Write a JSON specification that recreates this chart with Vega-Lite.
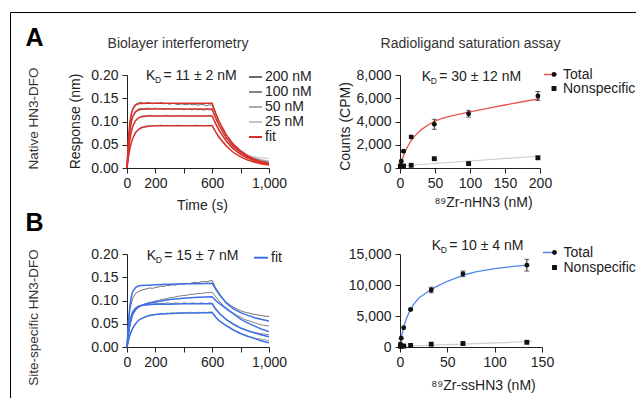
{
  "$schema": "https://vega.github.io/schema/vega-lite/v6.json",
  "background": "white",
  "padding": {"left": 9, "top": 11, "right": 0, "bottom": 0},
  "columns": 2,
  "spacing": {"row": 86, "column": 131},
  "bounds": "flush",
  "resolve": {"scale": {"color": "independent", "stroke": "independent", "shape": "independent", "opacity": "independent"}, "legend": {"color": "independent", "stroke": "independent", "shape": "independent", "opacity": "independent"}},
  "config": {
    "font": "Liberation Sans",
    "view": {"stroke": null},
    "axis": {"grid": false, "labelFont": "Liberation Sans", "labelFontSize": 14, "labelColor": "#222", "titleFont": "Liberation Sans", "titleFontSize": 14, "titleFontWeight": "normal", "titleColor": "#222", "domainColor": "#222", "tickColor": "#222", "tickSize": 5, "labelPadding": 3},
    "legend": {"labelFont": "Liberation Sans", "labelFontSize": 14, "labelColor": "#222"},
    "text": {"font": "Liberation Sans"}
  },
  "datasets": {
    "bliA": [
      {"t":0,"200 nM":0,"100 nM":0,"50 nM":0,"25 nM":0},
      {"t":20,"200 nM":0.099,"100 nM":0.082,"50 nM":0.063,"25 nM":0.042},
      {"t":40,"200 nM":0.128,"100 nM":0.111,"50 nM":0.090,"25 nM":0.065},
      {"t":60,"200 nM":0.137,"100 nM":0.122,"50 nM":0.103,"25 nM":0.077},
      {"t":80,"200 nM":0.140,"100 nM":0.127,"50 nM":0.108,"25 nM":0.084},
      {"t":100,"200 nM":0.141,"100 nM":0.128,"50 nM":0.111,"25 nM":0.088},
      {"t":120,"200 nM":0.139,"100 nM":0.127,"50 nM":0.113,"25 nM":0.090},
      {"t":140,"200 nM":0.141,"100 nM":0.129,"50 nM":0.112,"25 nM":0.091},
      {"t":160,"200 nM":0.140,"100 nM":0.128,"50 nM":0.114,"25 nM":0.092},
      {"t":180,"200 nM":0.138,"100 nM":0.127,"50 nM":0.112,"25 nM":0.090},
      {"t":200,"200 nM":0.140,"100 nM":0.129,"50 nM":0.113,"25 nM":0.092},
      {"t":220,"200 nM":0.139,"100 nM":0.127,"50 nM":0.111,"25 nM":0.091},
      {"t":240,"200 nM":0.141,"100 nM":0.128,"50 nM":0.113,"25 nM":0.093},
      {"t":260,"200 nM":0.138,"100 nM":0.126,"50 nM":0.112,"25 nM":0.091},
      {"t":280,"200 nM":0.139,"100 nM":0.128,"50 nM":0.114,"25 nM":0.092},
      {"t":300,"200 nM":0.137,"100 nM":0.127,"50 nM":0.112,"25 nM":0.090},
      {"t":320,"200 nM":0.139,"100 nM":0.126,"50 nM":0.113,"25 nM":0.092},
      {"t":340,"200 nM":0.138,"100 nM":0.128,"50 nM":0.111,"25 nM":0.091},
      {"t":360,"200 nM":0.136,"100 nM":0.126,"50 nM":0.113,"25 nM":0.093},
      {"t":380,"200 nM":0.138,"100 nM":0.127,"50 nM":0.112,"25 nM":0.091},
      {"t":400,"200 nM":0.137,"100 nM":0.125,"50 nM":0.113,"25 nM":0.092},
      {"t":420,"200 nM":0.136,"100 nM":0.127,"50 nM":0.111,"25 nM":0.090},
      {"t":440,"200 nM":0.138,"100 nM":0.126,"50 nM":0.112,"25 nM":0.092},
      {"t":460,"200 nM":0.136,"100 nM":0.125,"50 nM":0.113,"25 nM":0.091},
      {"t":480,"200 nM":0.137,"100 nM":0.127,"50 nM":0.111,"25 nM":0.093},
      {"t":500,"200 nM":0.135,"100 nM":0.125,"50 nM":0.112,"25 nM":0.091},
      {"t":520,"200 nM":0.137,"100 nM":0.126,"50 nM":0.113,"25 nM":0.092},
      {"t":540,"200 nM":0.136,"100 nM":0.124,"50 nM":0.111,"25 nM":0.090},
      {"t":560,"200 nM":0.134,"100 nM":0.126,"50 nM":0.112,"25 nM":0.092},
      {"t":580,"200 nM":0.136,"100 nM":0.125,"50 nM":0.113,"25 nM":0.091},
      {"t":600,"200 nM":0.135,"100 nM":0.125,"50 nM":0.112,"25 nM":0.092},
      {"t":620,"200 nM":0.120,"100 nM":0.110,"50 nM":0.099,"25 nM":0.081},
      {"t":640,"200 nM":0.104,"100 nM":0.096,"50 nM":0.087,"25 nM":0.072},
      {"t":660,"200 nM":0.092,"100 nM":0.085,"50 nM":0.077,"25 nM":0.064},
      {"t":680,"200 nM":0.080,"100 nM":0.074,"50 nM":0.068,"25 nM":0.057},
      {"t":700,"200 nM":0.071,"100 nM":0.065,"50 nM":0.060,"25 nM":0.051},
      {"t":720,"200 nM":0.062,"100 nM":0.058,"50 nM":0.053,"25 nM":0.046},
      {"t":740,"200 nM":0.055,"100 nM":0.050,"50 nM":0.047,"25 nM":0.042},
      {"t":760,"200 nM":0.048,"100 nM":0.045,"50 nM":0.042,"25 nM":0.038},
      {"t":780,"200 nM":0.043,"100 nM":0.039,"50 nM":0.038,"25 nM":0.035},
      {"t":800,"200 nM":0.038,"100 nM":0.035,"50 nM":0.034,"25 nM":0.032},
      {"t":820,"200 nM":0.034,"100 nM":0.031,"50 nM":0.031,"25 nM":0.030},
      {"t":840,"200 nM":0.029,"100 nM":0.027,"50 nM":0.028,"25 nM":0.028},
      {"t":860,"200 nM":0.027,"100 nM":0.025,"50 nM":0.025,"25 nM":0.027},
      {"t":880,"200 nM":0.024,"100 nM":0.022,"50 nM":0.023,"25 nM":0.025},
      {"t":900,"200 nM":0.021,"100 nM":0.020,"50 nM":0.022,"25 nM":0.024},
      {"t":920,"200 nM":0.019,"100 nM":0.018,"50 nM":0.020,"25 nM":0.023},
      {"t":940,"200 nM":0.018,"100 nM":0.016,"50 nM":0.018,"25 nM":0.022},
      {"t":960,"200 nM":0.015,"100 nM":0.015,"50 nM":0.017,"25 nM":0.022},
      {"t":980,"200 nM":0.014,"100 nM":0.013,"50 nM":0.016,"25 nM":0.021},
      {"t":1000,"200 nM":0.012,"100 nM":0.012,"50 nM":0.015,"25 nM":0.021}
    ],
    "fitA": [
      {"t":0,"200 nM":0,"100 nM":0,"50 nM":0,"25 nM":0},
      {"t":10,"200 nM":0.0627,"100 nM":0.0499,"50 nM":0.0370,"25 nM":0.0236},
      {"t":20,"200 nM":0.0972,"100 nM":0.0803,"50 nM":0.0617,"25 nM":0.0410},
      {"t":30,"200 nM":0.1161,"100 nM":0.0987,"50 nM":0.0783,"25 nM":0.0540},
      {"t":40,"200 nM":0.1264,"100 nM":0.1099,"50 nM":0.0894,"25 nM":0.0636},
      {"t":60,"200 nM":0.1352,"100 nM":0.1207,"50 nM":0.1018,"25 nM":0.0760},
      {"t":80,"200 nM":0.1379,"100 nM":0.1247,"50 nM":0.1074,"25 nM":0.0827},
      {"t":100,"200 nM":0.1387,"100 nM":0.1261,"50 nM":0.1100,"25 nM":0.0865},
      {"t":150,"200 nM":0.1390,"100 nM":0.1269,"50 nM":0.1117,"25 nM":0.0900},
      {"t":200,"200 nM":0.139,"100 nM":0.127,"50 nM":0.112,"25 nM":0.0908},
      {"t":300,"200 nM":0.139,"100 nM":0.127,"50 nM":0.112,"25 nM":0.091},
      {"t":600,"200 nM":0.139,"100 nM":0.127,"50 nM":0.112,"25 nM":0.091},
      {"t":610,"200 nM":0.1300,"100 nM":0.1187,"50 nM":0.1047,"25 nM":0.0851},
      {"t":625,"200 nM":0.1176,"100 nM":0.1074,"50 nM":0.0948,"25 nM":0.0770},
      {"t":650,"200 nM":0.0994,"100 nM":0.0908,"50 nM":0.0801,"25 nM":0.0651},
      {"t":700,"200 nM":0.0712,"100 nM":0.0650,"50 nM":0.0573,"25 nM":0.0466},
      {"t":750,"200 nM":0.0509,"100 nM":0.0465,"50 nM":0.0410,"25 nM":0.0333},
      {"t":800,"200 nM":0.0364,"100 nM":0.0333,"50 nM":0.0293,"25 nM":0.0238},
      {"t":850,"200 nM":0.0260,"100 nM":0.0237,"50 nM":0.0209,"25 nM":0.0170},
      {"t":900,"200 nM":0.0186,"100 nM":0.0170,"50 nM":0.0150,"25 nM":0.0122},
      {"t":950,"200 nM":0.0133,"100 nM":0.0122,"50 nM":0.0108,"25 nM":0.0087},
      {"t":1000,"200 nM":0.0095,"100 nM":0.0087,"50 nM":0.0077,"25 nM":0.0062}
    ],
    "bliB": [
      {"t":0,"g1":0,"g2":0,"g3":0,"g4":0},
      {"t":20,"g1":0.080,"g2":0.045,"g3":0.055,"g4":0.027},
      {"t":40,"g1":0.105,"g2":0.068,"g3":0.076,"g4":0.040},
      {"t":60,"g1":0.115,"g2":0.079,"g3":0.084,"g4":0.050},
      {"t":80,"g1":0.119,"g2":0.085,"g3":0.088,"g4":0.057},
      {"t":100,"g1":0.122,"g2":0.089,"g3":0.090,"g4":0.061},
      {"t":120,"g1":0.124,"g2":0.092,"g3":0.091,"g4":0.064},
      {"t":140,"g1":0.125,"g2":0.094,"g3":0.092,"g4":0.066},
      {"t":160,"g1":0.127,"g2":0.096,"g3":0.093,"g4":0.068},
      {"t":180,"g1":0.126,"g2":0.097,"g3":0.092,"g4":0.069},
      {"t":200,"g1":0.128,"g2":0.099,"g3":0.094,"g4":0.070},
      {"t":220,"g1":0.129,"g2":0.100,"g3":0.093,"g4":0.071},
      {"t":240,"g1":0.131,"g2":0.102,"g3":0.094,"g4":0.072},
      {"t":260,"g1":0.130,"g2":0.103,"g3":0.093,"g4":0.071},
      {"t":280,"g1":0.133,"g2":0.104,"g3":0.095,"g4":0.073},
      {"t":300,"g1":0.132,"g2":0.106,"g3":0.094,"g4":0.072},
      {"t":320,"g1":0.134,"g2":0.106,"g3":0.093,"g4":0.073},
      {"t":340,"g1":0.133,"g2":0.108,"g3":0.095,"g4":0.072},
      {"t":360,"g1":0.135,"g2":0.109,"g3":0.094,"g4":0.074},
      {"t":380,"g1":0.136,"g2":0.110,"g3":0.093,"g4":0.073},
      {"t":400,"g1":0.135,"g2":0.111,"g3":0.095,"g4":0.074},
      {"t":420,"g1":0.137,"g2":0.111,"g3":0.094,"g4":0.073},
      {"t":440,"g1":0.136,"g2":0.113,"g3":0.093,"g4":0.075},
      {"t":460,"g1":0.138,"g2":0.113,"g3":0.095,"g4":0.074},
      {"t":480,"g1":0.139,"g2":0.114,"g3":0.094,"g4":0.073},
      {"t":500,"g1":0.138,"g2":0.115,"g3":0.093,"g4":0.075},
      {"t":520,"g1":0.140,"g2":0.115,"g3":0.095,"g4":0.074},
      {"t":540,"g1":0.141,"g2":0.116,"g3":0.094,"g4":0.075},
      {"t":560,"g1":0.140,"g2":0.117,"g3":0.093,"g4":0.074},
      {"t":580,"g1":0.142,"g2":0.117,"g3":0.095,"g4":0.075},
      {"t":600,"g1":0.143,"g2":0.118,"g3":0.094,"g4":0.075},
      {"t":620,"g1":0.130,"g2":0.110,"g3":0.085,"g4":0.067},
      {"t":640,"g1":0.120,"g2":0.102,"g3":0.077,"g4":0.060},
      {"t":660,"g1":0.111,"g2":0.095,"g3":0.070,"g4":0.054},
      {"t":680,"g1":0.103,"g2":0.089,"g3":0.064,"g4":0.049},
      {"t":700,"g1":0.096,"g2":0.084,"g3":0.058,"g4":0.045},
      {"t":720,"g1":0.092,"g2":0.079,"g3":0.054,"g4":0.041},
      {"t":740,"g1":0.087,"g2":0.075,"g3":0.050,"g4":0.037},
      {"t":760,"g1":0.084,"g2":0.071,"g3":0.046,"g4":0.034},
      {"t":780,"g1":0.081,"g2":0.067,"g3":0.043,"g4":0.031},
      {"t":800,"g1":0.078,"g2":0.064,"g3":0.040,"g4":0.029},
      {"t":820,"g1":0.076,"g2":0.061,"g3":0.038,"g4":0.026},
      {"t":840,"g1":0.074,"g2":0.058,"g3":0.036,"g4":0.024},
      {"t":860,"g1":0.073,"g2":0.056,"g3":0.034,"g4":0.022},
      {"t":880,"g1":0.071,"g2":0.054,"g3":0.032,"g4":0.021},
      {"t":900,"g1":0.070,"g2":0.052,"g3":0.031,"g4":0.019},
      {"t":920,"g1":0.069,"g2":0.050,"g3":0.030,"g4":0.018},
      {"t":940,"g1":0.068,"g2":0.048,"g3":0.029,"g4":0.017},
      {"t":960,"g1":0.067,"g2":0.047,"g3":0.028,"g4":0.016},
      {"t":980,"g1":0.066,"g2":0.046,"g3":0.027,"g4":0.015},
      {"t":1000,"g1":0.066,"g2":0.045,"g3":0.027,"g4":0.014}
    ],
    "fitB": [
      {"t":0,"k1":0,"k2":0,"k3":0,"k4":0},
      {"t":10,"k1":0.055,"k2":0.028,"k3":0.032,"k4":0.014},
      {"t":20,"k1":0.088,"k2":0.048,"k3":0.052,"k4":0.025},
      {"t":30,"k1":0.108,"k2":0.062,"k3":0.066,"k4":0.033},
      {"t":40,"k1":0.119,"k2":0.071,"k3":0.075,"k4":0.040},
      {"t":60,"k1":0.128,"k2":0.081,"k3":0.083,"k4":0.050},
      {"t":80,"k1":0.131,"k2":0.086,"k3":0.087,"k4":0.057},
      {"t":100,"k1":0.132,"k2":0.089,"k3":0.089,"k4":0.061},
      {"t":150,"k1":0.133,"k2":0.094,"k3":0.091,"k4":0.067},
      {"t":200,"k1":0.134,"k2":0.097,"k3":0.092,"k4":0.070},
      {"t":300,"k1":0.135,"k2":0.102,"k3":0.092,"k4":0.072},
      {"t":400,"k1":0.136,"k2":0.105,"k3":0.093,"k4":0.073},
      {"t":500,"k1":0.136,"k2":0.107,"k3":0.093,"k4":0.073},
      {"t":600,"k1":0.137,"k2":0.108,"k3":0.093,"k4":0.074},
      {"t":610,"k1":0.132,"k2":0.105,"k3":0.088,"k4":0.070},
      {"t":625,"k1":0.124,"k2":0.100,"k3":0.081,"k4":0.064},
      {"t":650,"k1":0.113,"k2":0.094,"k3":0.072,"k4":0.056},
      {"t":700,"k1":0.094,"k2":0.082,"k3":0.059,"k4":0.046},
      {"t":750,"k1":0.082,"k2":0.071,"k3":0.049,"k4":0.037},
      {"t":800,"k1":0.074,"k2":0.060,"k3":0.041,"k4":0.029},
      {"t":850,"k1":0.068,"k2":0.052,"k3":0.035,"k4":0.023},
      {"t":900,"k1":0.063,"k2":0.045,"k3":0.030,"k4":0.018},
      {"t":950,"k1":0.059,"k2":0.038,"k3":0.026,"k4":0.013},
      {"t":1000,"k1":0.056,"k2":0.033,"k3":0.022,"k4":0.009}
    ],
    "satA": [
      {"s":"Total","x":0.6,"y":230},
      {"s":"Total","x":1.8,"y":580},
      {"s":"Total","x":5,"y":1440,"lo":1360,"hi":1520},
      {"s":"Total","x":16,"y":2670,"lo":2550,"hi":2790},
      {"s":"Total","x":49,"y":3760,"lo":3330,"hi":4190},
      {"s":"Total","x":98,"y":4670,"lo":4380,"hi":4960},
      {"s":"Total","x":197,"y":6190,"lo":5800,"hi":6580},
      {"s":"Nonspecific","x":0.6,"y":120},
      {"s":"Nonspecific","x":1.8,"y":150},
      {"s":"Nonspecific","x":5,"y":170},
      {"s":"Nonspecific","x":16,"y":230},
      {"s":"Nonspecific","x":49,"y":800},
      {"s":"Nonspecific","x":98,"y":380},
      {"s":"Nonspecific","x":197,"y":880}
    ],
    "totA": [
      {"x":0,"y":0},{"x":1,"y":240},{"x":2,"y":455},{"x":3,"y":664},{"x":5,"y":1030},{"x":7.5,"y":1414},{"x":10,"y":1742},{"x":15,"y":2271},{"x":20,"y":2681},{"x":30,"y":3280},{"x":40,"y":3704},{"x":50,"y":4030},{"x":60,"y":4260},{"x":75,"y":4500},{"x":100,"y":4830},{"x":125,"y":5130},{"x":150,"y":5420},{"x":175,"y":5700},{"x":200,"y":5970}
    ],
    "nsA": [{"x":0,"y":170},{"x":200,"y":1030}],
    "satB": [
      {"s":"Total","x":0.4,"y":480},
      {"s":"Total","x":1.3,"y":1400},
      {"s":"Total","x":3.9,"y":3100},
      {"s":"Total","x":11.2,"y":6050,"lo":5900,"hi":6200},
      {"s":"Total","x":33,"y":9200,"lo":8750,"hi":9650},
      {"s":"Total","x":66.5,"y":11800,"lo":11350,"hi":12250},
      {"s":"Total","x":134,"y":13200,"lo":12250,"hi":14150},
      {"s":"Nonspecific","x":0.4,"y":120},
      {"s":"Nonspecific","x":1.3,"y":180},
      {"s":"Nonspecific","x":3.9,"y":150},
      {"s":"Nonspecific","x":11.2,"y":250},
      {"s":"Nonspecific","x":33,"y":450},
      {"s":"Nonspecific","x":66.5,"y":560},
      {"s":"Nonspecific","x":134,"y":760}
    ],
    "totB": [
      {"x":0,"y":0},{"x":1,"y":1000},{"x":2,"y":1900},{"x":4,"y":3300},{"x":7,"y":4700},{"x":11,"y":6000},{"x":15,"y":7000},{"x":20,"y":7900},{"x":30,"y":9000},{"x":40,"y":9850},{"x":50,"y":10600},{"x":67,"y":11600},{"x":80,"y":12100},{"x":100,"y":12650},{"x":120,"y":13000},{"x":134,"y":13200}
    ],
    "nsB": [{"x":0,"y":100},{"x":140,"y":890}],
    "one": [{"u": 0}]
  },
  "concat": [
    {
      "width": 142, "height": 93,
      "resolve": {"scale": {"x": "independent", "y": "independent"}},
      "layer": [
        {
          "resolve": {"axis": {"x": "independent", "y": "independent"}},
          "layer": [
            {
              "data": {"name": "bliA"},
              "transform": [{"fold": ["200 nM", "100 nM", "50 nM", "25 nM"], "as": ["c", "v"]}],
              "mark": {"type": "line", "strokeWidth": 1},
              "encoding": {
                "x": {"field": "t", "type": "quantitative", "scale": {"domain": [0, 1000], "nice": false}, "axis": {"orient": "bottom", "values": [0, 400, 600], "labelFlush": false, "labelExpr": "datum.value == 400 ? '' : format(datum.value, ',')", "title": "Time (s)", "titleX": 75, "titleY": 37, "titleAlign": "center", "titleBaseline": "middle"}},
                "y": {"field": "v", "type": "quantitative", "scale": {"domain": [0, 0.2], "nice": false}, "axis": {"orient": "left", "values": [0, 0.1], "labelFlush": false, "labelExpr": "format(datum.value, '.2f')", "title": "Response (nm)", "titleX": -52, "titleY": 46, "titleAlign": "center", "titleBaseline": "middle", "labelPadding": 4}},
                "color": {"field": "c", "type": "nominal", "scale": {"domain": ["200 nM", "100 nM", "50 nM", "25 nM", "fit"], "range": ["#6b6b6b", "#858585", "#a9a9a9", "#c4c4c4", "#d8302a"]}, "legend": {"orient": "none", "legendX": 121, "legendY": -4, "title": null, "padding": 0, "rowPadding": 0, "clipHeight": 11.75, "symbolType": "stroke", "symbolSize": 169, "symbolStrokeWidth": 2, "labelOffset": 2}}
              }
            },
            {
              "data": {"name": "fitA"},
              "transform": [{"fold": ["200 nM", "100 nM", "50 nM", "25 nM"], "as": ["c", "v"]}],
              "mark": {"type": "line", "strokeWidth": 1.5},
              "encoding": {
                "x": {"field": "t", "type": "quantitative", "axis": {"orient": "bottom", "values": [200, 800, 1000], "domain": false, "labelFlush": false, "labelExpr": "datum.value == 800 ? '' : format(datum.value, ',')", "title": null}},
                "y": {"field": "v", "type": "quantitative", "axis": {"orient": "left", "values": [0.05, 0.15], "domain": false, "labelFlush": false, "labelExpr": "format(datum.value, '.2f')", "title": null, "labelPadding": 4}},
                "color": {"datum": "fit", "type": "nominal"},
                "detail": {"field": "c", "type": "nominal"}
              }
            },
            {"data": {"name": "one"}, "mark": {"type": "text", "align": "left", "baseline": "middle", "fontSize": 14, "color": "#222"}, "encoding": {"x": {"datum": 134, "axis": null}, "y": {"datum": 0.198, "axis": {"orient": "left", "values": [0.2], "domain": false, "labelFlush": false, "labelExpr": "format(datum.value, '.2f')", "title": null, "labelPadding": 4}}, "text": {"value": "K"}}},
            {"data": {"name": "one"}, "mark": {"type": "text", "align": "left", "baseline": "middle", "fontSize": 8.5, "dx": 9, "dy": 4, "color": "#222"}, "encoding": {"x": {"datum": 134, "axis": null}, "y": {"datum": 0.198, "axis": null}, "text": {"value": "D"}}},
            {"data": {"name": "one"}, "mark": {"type": "text", "align": "left", "baseline": "middle", "fontSize": 14, "dx": 17.5, "color": "#222"}, "encoding": {"x": {"datum": 134, "axis": null}, "y": {"datum": 0.198, "axis": null}, "text": {"value": "= 11 ± 2 nM"}}}
          ]
        },
        {
          "data": {"name": "one"},
          "mark": {"type": "point", "size": 0, "opacity": 0},
          "encoding": {
            "x": {"field": "u", "type": "quantitative", "scale": {"domain": [0, 1]}, "axis": {"orient": "top", "title": "A", "labels": false, "ticks": false, "domain": false, "offset": 0, "titleX": -102, "titleY": -30, "titleAlign": "left", "titleBaseline": "alphabetic", "titleFontSize": 25, "titleFontWeight": "bold", "titleColor": "#000"}},
            "y": {"field": "u", "type": "quantitative", "scale": {"domain": [0, 1]}, "axis": {"orient": "left", "title": "Native HN3-DFO", "labels": false, "ticks": false, "domain": false, "offset": 0, "titleX": -94, "titleY": 43, "titleAlign": "center", "titleBaseline": "middle", "titleFontSize": 13.5, "titleColor": "#333"}}
          }
        },
        {
          "data": {"name": "one"},
          "mark": {"type": "point", "size": 0, "opacity": 0},
          "encoding": {
            "x": {"field": "u", "type": "quantitative", "scale": {"domain": [0, 1]}, "axis": {"orient": "top", "title": "Biolayer interferometry", "labels": false, "ticks": false, "domain": false, "offset": 0, "titleX": 50.5, "titleY": -27.5, "titleAlign": "center", "titleBaseline": "alphabetic", "titleFontSize": 14, "titleColor": "#333"}},
            "y": {"field": "u", "type": "quantitative", "scale": {"domain": [0, 1]}, "axis": null}
          }
        }
      ]
    },
    {
      "width": 140, "height": 93,
      "resolve": {"scale": {"x": "independent", "y": "independent"}},
      "layer": [
        {
          "resolve": {"axis": {"x": "independent", "y": "independent"}},
          "layer": [
            {
              "data": {"name": "nsA"},
              "mark": {"type": "line", "color": "#cfcfcf", "strokeWidth": 1.2},
              "encoding": {
                "x": {"field": "x", "type": "quantitative", "scale": {"domain": [0, 200], "nice": false}, "axis": {"orient": "bottom", "values": [0, 100], "labelFlush": false, "labelExpr": "format(datum.value, ',')", "title": "⁸⁹Zr-nHN3 (nM)", "titleX": 83, "titleY": 34, "titleAlign": "center", "titleBaseline": "middle"}},
                "y": {"field": "y", "type": "quantitative", "scale": {"domain": [0, 8000], "nice": false}, "axis": {"orient": "left", "values": [0, 4000], "labelFlush": false, "labelExpr": "format(datum.value, ',')", "title": "Counts (CPM)", "titleX": -55, "titleY": 51, "titleAlign": "center", "titleBaseline": "middle", "labelPadding": 4}}
              }
            },
            {
              "data": {"name": "totA"},
              "mark": {"type": "line", "strokeWidth": 1.3},
              "encoding": {
                "x": {"field": "x", "type": "quantitative", "axis": {"orient": "bottom", "values": [50, 150], "domain": false, "labelFlush": false, "labelExpr": "format(datum.value, ',')", "title": null}},
                "y": {"field": "y", "type": "quantitative", "axis": {"orient": "left", "values": [2000, 6000], "domain": false, "labelFlush": false, "labelExpr": "format(datum.value, ',')", "title": null, "labelPadding": 4}},
                "stroke": {"datum": "Total", "type": "nominal", "scale": {"domain": ["Total"], "range": ["#e8564c"]}, "legend": {"orient": "none", "legendX": 143, "legendY": -6.5, "title": null, "padding": 0, "rowPadding": 0, "clipHeight": 12, "symbolType": "stroke", "symbolSize": 169, "symbolStrokeWidth": 1.5, "labelOpacity": 0}}
              }
            },
            {
              "data": {"name": "satA"},
              "transform": [{"filter": "datum.lo != null"}],
              "mark": {"type": "errorbar", "ticks": true, "color": "#222", "thickness": 1, "size": 5},
              "encoding": {
                "x": {"field": "x", "type": "quantitative", "axis": null},
                "y": {"field": "lo", "type": "quantitative", "axis": null},
                "y2": {"field": "hi"}
              }
            },
            {
              "data": {"name": "satA"},
              "mark": {"type": "point", "filled": true, "size": 24, "color": "#111", "opacity": 1},
              "encoding": {
                "x": {"field": "x", "type": "quantitative", "axis": {"orient": "bottom", "values": [200], "domain": false, "labelFlush": false, "labelExpr": "format(datum.value, ',')", "title": null}},
                "y": {"field": "y", "type": "quantitative", "axis": {"orient": "left", "values": [8000], "domain": false, "labelFlush": false, "labelExpr": "format(datum.value, ',')", "title": null, "labelPadding": 4}},
                "shape": {"field": "s", "type": "nominal", "scale": {"domain": ["Total", "Nonspecific"], "range": ["circle", "square"]}, "legend": {"orient": "none", "legendX": 147, "legendY": -6.5, "title": null, "padding": 0, "rowPadding": 0, "clipHeight": 12, "symbolSize": 24, "symbolFillColor": "#111", "symbolStrokeWidth": 0, "labelOffset": 2}}
              }
            },
            {"data": {"name": "one"}, "mark": {"type": "text", "align": "left", "baseline": "middle", "fontSize": 14, "color": "#222"}, "encoding": {"x": {"datum": 31, "axis": null}, "y": {"datum": 7850, "axis": null}, "text": {"value": "K"}}},
            {"data": {"name": "one"}, "mark": {"type": "text", "align": "left", "baseline": "middle", "fontSize": 8.5, "dx": 9, "dy": 4, "color": "#222"}, "encoding": {"x": {"datum": 31, "axis": null}, "y": {"datum": 7850, "axis": null}, "text": {"value": "D"}}},
            {"data": {"name": "one"}, "mark": {"type": "text", "align": "left", "baseline": "middle", "fontSize": 14, "dx": 17.5, "color": "#222"}, "encoding": {"x": {"datum": 31, "axis": null}, "y": {"datum": 7850, "axis": null}, "text": {"value": "= 30 ± 12 nM"}}}
          ]
        },
        {
          "data": {"name": "one"},
          "mark": {"type": "point", "size": 0, "opacity": 0},
          "encoding": {
            "x": {"field": "u", "type": "quantitative", "scale": {"domain": [0, 1]}, "axis": {"orient": "top", "title": "Radioligand saturation assay", "labels": false, "ticks": false, "domain": false, "offset": 0, "titleX": 70, "titleY": -27.5, "titleAlign": "center", "titleBaseline": "alphabetic", "titleFontSize": 14, "titleColor": "#333"}},
            "y": {"field": "u", "type": "quantitative", "scale": {"domain": [0, 1]}, "axis": null}
          }
        }
      ]
    },
    {
      "width": 142, "height": 93,
      "resolve": {"scale": {"x": "independent", "y": "independent"}},
      "layer": [
        {
          "resolve": {"axis": {"x": "independent", "y": "independent"}},
          "layer": [
            {
              "data": {"name": "bliB"},
              "transform": [{"fold": ["g1", "g2", "g3", "g4"], "as": ["c", "v"]}],
              "mark": {"type": "line", "strokeWidth": 1},
              "encoding": {
                "x": {"field": "t", "type": "quantitative", "scale": {"domain": [0, 1000], "nice": false}, "axis": {"orient": "bottom", "values": [0, 400, 600], "labelFlush": false, "labelExpr": "datum.value == 400 ? '' : format(datum.value, ',')", "title": null}},
                "y": {"field": "v", "type": "quantitative", "scale": {"domain": [0, 0.2], "nice": false}, "axis": {"orient": "left", "values": [0, 0.1], "labelFlush": false, "labelExpr": "format(datum.value, '.2f')", "title": null, "labelPadding": 4}},
                "stroke": {"field": "c", "type": "nominal", "scale": {"domain": ["g1", "g2", "g3", "g4"], "range": ["#6f6f6f", "#7f7f7f", "#8a8a8a", "#9a9a9a"]}, "legend": null}
              }
            },
            {
              "data": {"name": "fitB"},
              "transform": [{"fold": ["k1", "k2", "k3", "k4"], "as": ["c", "v"]}],
              "mark": {"type": "line", "strokeWidth": 1.5},
              "encoding": {
                "x": {"field": "t", "type": "quantitative", "axis": {"orient": "bottom", "values": [200, 800, 1000], "domain": false, "labelFlush": false, "labelExpr": "datum.value == 800 ? '' : format(datum.value, ',')", "title": null}},
                "y": {"field": "v", "type": "quantitative", "axis": {"orient": "left", "values": [0.05, 0.15], "domain": false, "labelFlush": false, "labelExpr": "format(datum.value, '.2f')", "title": null, "labelPadding": 4}},
                "color": {"datum": "fit", "type": "nominal", "scale": {"domain": ["fit"], "range": ["#3d6fe8"]}, "legend": {"orient": "none", "legendX": 126, "legendY": -4.3, "title": null, "padding": 0, "symbolType": "stroke", "symbolSize": 196, "symbolStrokeWidth": 2, "labelOffset": 2}},
                "detail": {"field": "c", "type": "nominal"}
              }
            },
            {"data": {"name": "one"}, "mark": {"type": "text", "align": "left", "baseline": "middle", "fontSize": 14, "color": "#222"}, "encoding": {"x": {"datum": 139, "axis": null}, "y": {"datum": 0.196, "axis": {"orient": "left", "values": [0.2], "domain": false, "labelFlush": false, "labelExpr": "format(datum.value, '.2f')", "title": null, "labelPadding": 4}}, "text": {"value": "K"}}},
            {"data": {"name": "one"}, "mark": {"type": "text", "align": "left", "baseline": "middle", "fontSize": 8.5, "dx": 9, "dy": 4, "color": "#222"}, "encoding": {"x": {"datum": 139, "axis": null}, "y": {"datum": 0.196, "axis": null}, "text": {"value": "D"}}},
            {"data": {"name": "one"}, "mark": {"type": "text", "align": "left", "baseline": "middle", "fontSize": 14, "dx": 17.5, "color": "#222"}, "encoding": {"x": {"datum": 139, "axis": null}, "y": {"datum": 0.196, "axis": null}, "text": {"value": "= 15 ± 7 nM"}}}
          ]
        },
        {
          "data": {"name": "one"},
          "mark": {"type": "point", "size": 0, "opacity": 0},
          "encoding": {
            "x": {"field": "u", "type": "quantitative", "scale": {"domain": [0, 1]}, "axis": {"orient": "top", "title": "B", "labels": false, "ticks": false, "domain": false, "offset": 0, "titleX": -102, "titleY": -24, "titleAlign": "left", "titleBaseline": "alphabetic", "titleFontSize": 25, "titleFontWeight": "bold", "titleColor": "#000"}},
            "y": {"field": "u", "type": "quantitative", "scale": {"domain": [0, 1]}, "axis": {"orient": "left", "title": "Site-specific HN3-DFO", "labels": false, "ticks": false, "domain": false, "offset": 0, "titleX": -94, "titleY": 63, "titleAlign": "center", "titleBaseline": "middle", "titleFontSize": 13.5, "titleColor": "#333"}},
            "opacity": {"datum": "frame", "type": "nominal", "scale": {"domain": ["frame"], "range": [0]}, "legend": {"orient": "none", "legendX": -117, "legendY": -242, "padding": 400, "strokeColor": "#000", "title": null, "labelOpacity": 0, "symbolOpacity": 0, "encode": {"legend": {"update": {"stroke": {"value": "#000"}, "strokeWidth": {"value": 2}}}}}}
          }
        }
      ]
    },
    {
      "width": 142, "height": 93,
      "resolve": {"axis": {"y": "independent"}},
      "layer": [
        {
          "data": {"name": "nsB"},
          "mark": {"type": "line", "color": "#cfcfcf", "strokeWidth": 1.2},
          "encoding": {
            "x": {"field": "x", "type": "quantitative", "scale": {"domain": [0, 150], "nice": false}, "axis": {"values": [0, 50, 100, 150], "labelFlush": false, "labelExpr": "format(datum.value, ',')", "title": "⁸⁹Zr-ssHN3 (nM)", "titleX": 83, "titleY": 38, "titleAlign": "center", "titleBaseline": "middle"}},
            "y": {"field": "y", "type": "quantitative", "scale": {"domain": [0, 15000], "nice": false}, "axis": {"orient": "left", "values": [0, 10000], "labelFlush": false, "labelExpr": "format(datum.value, ',')", "title": null, "labelPadding": 4}}
          }
        },
        {
          "data": {"name": "totB"},
          "mark": {"type": "line", "strokeWidth": 1.3},
          "encoding": {
            "x": {"field": "x", "type": "quantitative", "title": "⁸⁹Zr-ssHN3 (nM)"},
            "y": {"field": "y", "type": "quantitative", "axis": {"orient": "left", "values": [5000, 15000], "domain": false, "labelFlush": false, "labelExpr": "format(datum.value, ',')", "title": null, "labelPadding": 4}},
            "stroke": {"datum": "Total", "type": "nominal", "scale": {"domain": ["Total"], "range": ["#4f86f0"]}, "legend": {"orient": "none", "legendX": 142, "legendY": -8, "title": null, "padding": 0, "rowPadding": 0, "clipHeight": 13, "symbolType": "stroke", "symbolSize": 169, "symbolStrokeWidth": 1.5, "labelOpacity": 0}}
          }
        },
        {
          "data": {"name": "satB"},
          "transform": [{"filter": "datum.lo != null"}],
          "mark": {"type": "errorbar", "ticks": true, "color": "#222", "thickness": 1, "size": 5},
          "encoding": {
            "x": {"field": "x", "type": "quantitative", "title": "⁸⁹Zr-ssHN3 (nM)"},
            "y": {"field": "lo", "type": "quantitative", "axis": null},
            "y2": {"field": "hi"}
          }
        },
        {
          "data": {"name": "satB"},
          "mark": {"type": "point", "filled": true, "size": 24, "color": "#111", "opacity": 1},
          "encoding": {
            "x": {"field": "x", "type": "quantitative", "title": "⁸⁹Zr-ssHN3 (nM)"},
            "y": {"field": "y", "type": "quantitative", "axis": null},
            "shape": {"field": "s", "type": "nominal", "scale": {"domain": ["Total", "Nonspecific"], "range": ["circle", "square"]}, "legend": {"orient": "none", "legendX": 147.5, "legendY": -8, "title": null, "padding": 0, "rowPadding": 0, "clipHeight": 13, "symbolSize": 24, "symbolFillColor": "#111", "symbolStrokeWidth": 0, "labelOffset": 2}}
          }
        },
        {"data": {"name": "one"}, "mark": {"type": "text", "align": "left", "baseline": "middle", "fontSize": 14, "color": "#222"}, "encoding": {"x": {"datum": 33.5}, "y": {"datum": 16340, "axis": null}, "text": {"value": "K"}}},
        {"data": {"name": "one"}, "mark": {"type": "text", "align": "left", "baseline": "middle", "fontSize": 8.5, "dx": 9, "dy": 4, "color": "#222"}, "encoding": {"x": {"datum": 33.5}, "y": {"datum": 16340, "axis": null}, "text": {"value": "D"}}},
        {"data": {"name": "one"}, "mark": {"type": "text", "align": "left", "baseline": "middle", "fontSize": 14, "dx": 17.5, "color": "#222"}, "encoding": {"x": {"datum": 33.5}, "y": {"datum": 16340, "axis": null}, "text": {"value": "= 10 ± 4 nM"}}}
      ]
    }
  ]
}
